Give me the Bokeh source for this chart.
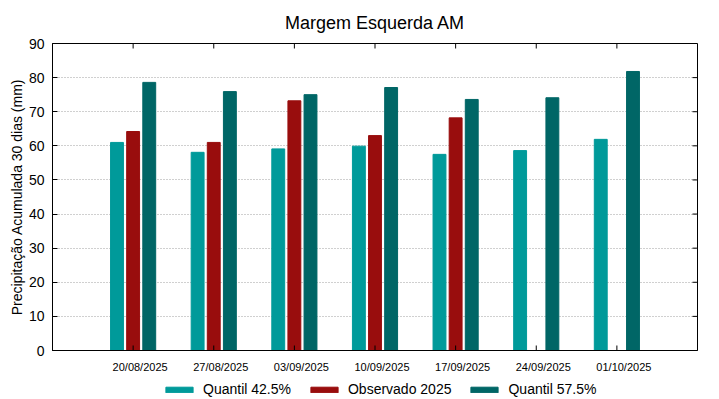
import numpy as np
from bokeh.plotting import figure
from bokeh.layouts import column
from bokeh.models import (ColumnDataSource, Range1d, FixedTicker, Legend, LegendItem)
from bokeh.transform import dodge
from bokeh.embed import file_html
from bokeh.resources import INLINE

dates = ["20/08/2025", "27/08/2025", "03/09/2025", "10/09/2025",
         "17/09/2025", "24/09/2025", "01/10/2025"]
quantil_425 = [61.0, 58.1, 59.1, 59.9, 57.5, 58.6, 61.9]
observado_2025 = [64.2, 61.0, 73.2, 63.0, 68.2]
quantil_575 = [78.6, 75.9, 75.0, 77.1, 73.6, 74.1, 81.8]
series_names = ["Quantil 42.5%", "Observado 2025", "Quantil 57.5%"]
y_ticks = list(range(0, 91, 10))

xs = list(range(1, len(dates) + 1))
src_q = ColumnDataSource(dict(x=xs, q425=quantil_425, q575=quantil_575))
src_o = ColumnDataSource(dict(x=xs[:len(observado_2025)], obs=observado_2025))

FONT = "Liberation Sans"
COLORS = ["#009a9a", "#990d0d", "#006666"]

W, H, HL = 719, 378, 21
BL, BR, BT, BB = 52, 22, 43, 28
XMAX, YMAX = len(dates) + 1, 90

p = figure(width=W, height=H, output_backend="svg", toolbar_location=None,
           x_range=Range1d(0, XMAX), y_range=Range1d(0, YMAX),
           min_border_left=BL, min_border_right=BR, min_border_top=BT,
           min_border_bottom=BB, title="Margem Esquerda AM")

p.title.text_font = FONT
p.title.text_font_size = "18px"
p.title.text_font_style = "normal"
p.title.align = "center"
p.title.text_color = "#000000"
p.title.text_line_height = 1.0
p.title.standoff = 21

p.vbar(x=dodge("x", -0.2, range=p.x_range), top="q425", width=0.16, bottom=0,
       source=src_q, fill_color=COLORS[0], line_color=COLORS[0])
p.vbar(x="x", top="obs", width=0.16, bottom=0,
       source=src_o, fill_color=COLORS[1], line_color=COLORS[1])
p.vbar(x=dodge("x", 0.2, range=p.x_range), top="q575", width=0.16, bottom=0,
       source=src_q, fill_color=COLORS[2], line_color=COLORS[2])

p.outline_line_color = "#000000"
p.outline_line_width = 1

p.xgrid.grid_line_color = None
p.ygrid.ticker = FixedTicker(ticks=y_ticks)
p.ygrid.grid_line_color = "#a0a0a0"
p.ygrid.grid_line_dash = "1 2"

# left axis
p.yaxis.ticker = FixedTicker(ticks=y_ticks)
p.yaxis.axis_label = "Precipitação Acumulada 30 dias (mm)"
p.yaxis.axis_label_text_font = FONT
p.yaxis.axis_label_text_font_size = "14px"
p.yaxis.axis_label_text_font_style = "normal"
p.yaxis.axis_label_text_color = "#000000"
p.yaxis.axis_label_standoff = 1
p.yaxis.major_label_text_font = FONT
p.yaxis.major_label_text_font_size = "14px"
p.yaxis.major_label_text_color = "#000000"
p.yaxis.major_tick_in = 5
p.yaxis.major_tick_out = 0
p.yaxis.minor_tick_line_color = None
p.yaxis.axis_line_color = "#000000"
p.yaxis.major_label_standoff = 8

frame_w = W - BL - BR
frame_h = H - BT - BB
px_x = XMAX / frame_w   # data units per pixel (x)
px_y = YMAX / frame_h   # data units per pixel (y)

# bottom axis: labels sit 7 px right of their tick marks (as in the original)
label_pos = [x + 7 * px_x for x in xs]
p.xaxis.ticker = FixedTicker(ticks=label_pos)
p.xaxis.major_label_overrides = {lp: d for lp, d in zip(label_pos, dates)}
p.xaxis.major_label_text_font = FONT
p.xaxis.major_label_text_font_size = "11px"
p.xaxis.major_label_text_color = "#000000"
p.xaxis.major_tick_line_color = None
p.xaxis.major_tick_in = 0
p.xaxis.major_tick_out = 0
p.xaxis.minor_tick_line_color = None
p.xaxis.axis_line_color = "#000000"
p.xaxis.major_label_standoff = 10

# inward tick marks on bottom, top and right edges (5 px long)
n = len(xs)
p.segment(x0=xs, x1=xs, y0=[0] * n, y1=[5 * px_y] * n,
          line_color="#000000", line_width=1)
p.segment(x0=xs, x1=xs, y0=[YMAX] * n, y1=[YMAX - 5 * px_y] * n,
          line_color="#000000", line_width=1)
m = len(y_ticks)
p.segment(x0=[XMAX] * m, x1=[XMAX - 5 * px_x] * m, y0=y_ticks, y1=y_ticks,
          line_color="#000000", line_width=1)

# legend strip below the chart
lf = figure(width=W, height=HL, output_backend="svg", toolbar_location=None,
            x_range=Range1d(0, 1), y_range=Range1d(0, 1),
            x_axis_type=None, y_axis_type=None, min_border=0,
            outline_line_color=None)
legend_srcs = [(src_q, "q425"), (src_o, "obs"), (src_q, "q575")]
items = []
for name, col, (s, f) in zip(series_names, COLORS, legend_srcs):
    r = lf.vbar(x="x", top=f, width=0.1, source=s,
                fill_color=col, line_color=col, visible=False)
    items.append(LegendItem(label=name, renderers=[r]))

legend = Legend(items=items, orientation="horizontal", location=(110, 2),
                label_text_font=FONT, label_text_font_size="14px",
                label_text_color="#000000",
                glyph_width=34, glyph_height=7, label_height=14,
                label_standoff=7, spacing=16, padding=0, margin=0,
                border_line_color=None, background_fill_alpha=0,
                inactive_fill_alpha=0)
lf.add_layout(legend)

layout = column(p, lf, spacing=0)
open("out.html", "w").write(file_html(layout, INLINE))
